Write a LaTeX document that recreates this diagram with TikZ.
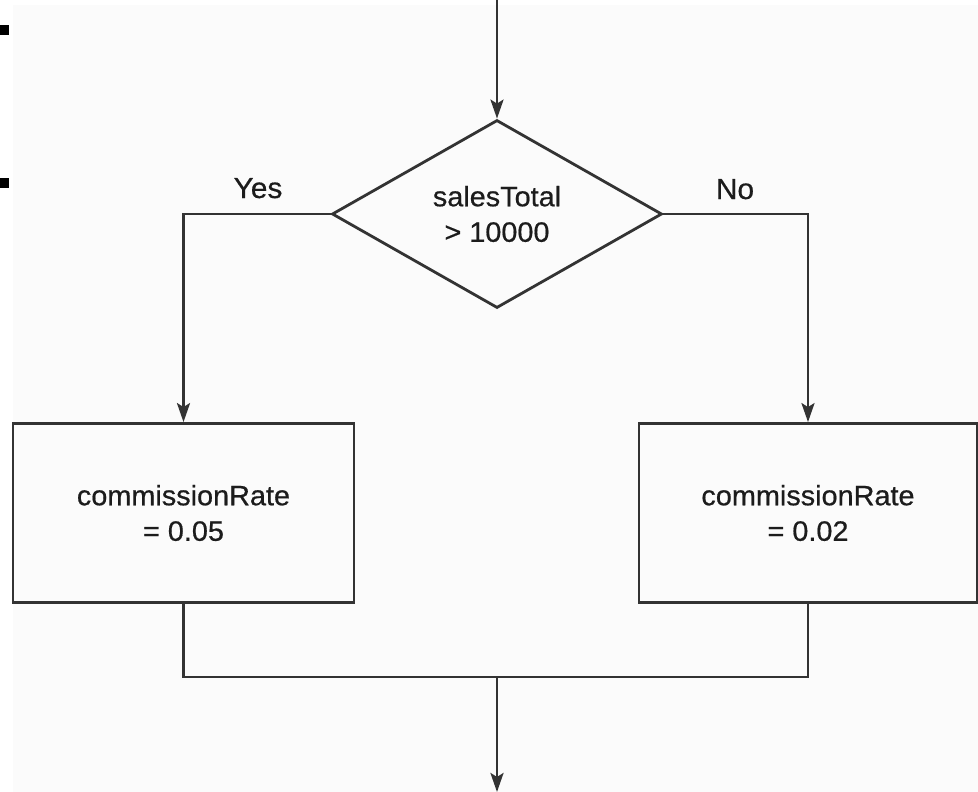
\documentclass[tikz,border=0pt]{standalone}
\usepackage{fontspec}
\setmainfont{Liberation Sans}[FakeStretch=1.03,FakeBold=0.6]
\usetikzlibrary{shapes.geometric,arrows.meta}
\definecolor{bggray}{HTML}{FBFBFB}
\definecolor{linegray}{HTML}{333333}
\definecolor{textgray}{HTML}{1C1C1C}
\begin{document}
\begin{tikzpicture}[x=1pt,y=-1pt,
  conn/.style={draw=linegray,line width=2.8pt},
  arr/.style={conn,-{Stealth[length=19pt,width=13pt,inset=4pt]}},
  boxtext/.style={font=\fontsize{28}{35.5}\selectfont,text=textgray,align=center},
  procbox/.style={draw=linegray,line width=2.8pt,fill=bggray,rectangle,inner sep=0pt,boxtext},
  decbox/.style={draw=linegray,line width=2.8pt,fill=bggray,diamond,inner sep=0pt,boxtext,minimum width=330pt,minimum height=188pt},
  lbl/.style={font=\fontsize{29}{30}\selectfont,text=textgray,anchor=base}]
\useasboundingbox (0,0) rectangle (978,792);
\fill[white] (0,0) rectangle (978,792);
\fill[bggray] (13,5) rectangle (978,792);
\fill[black] (0,25) rectangle (9,35);
\fill[black] (0,178) rectangle (9,188);

\coordinate (start) at (497,0);
\node[decbox] (d) at (497,214) {salesTotal\\> 10000};
\node[procbox,minimum width=341pt,minimum height=179pt] (lb) at (183.5,513) {commissionRate\\= 0.05};
\node[procbox,minimum width=338pt,minimum height=179pt] (rb) at (808,513) {commissionRate\\= 0.02};
\coordinate (join) at (497,677);
\coordinate (end) at (497,792);

\draw[arr] (start) -- (d.north);
\draw[arr] (d.west) -| (lb.north);
\draw[arr] (d.east) -| (rb.north);
\draw[conn] (lb.south) |- (join) -| (rb.south);
\draw[arr] (join) -- (end);

\node[lbl] (yes) at (258,198) {Yes};
\node[lbl] (no) at (735,199) {No};
\end{tikzpicture}
\end{document}
